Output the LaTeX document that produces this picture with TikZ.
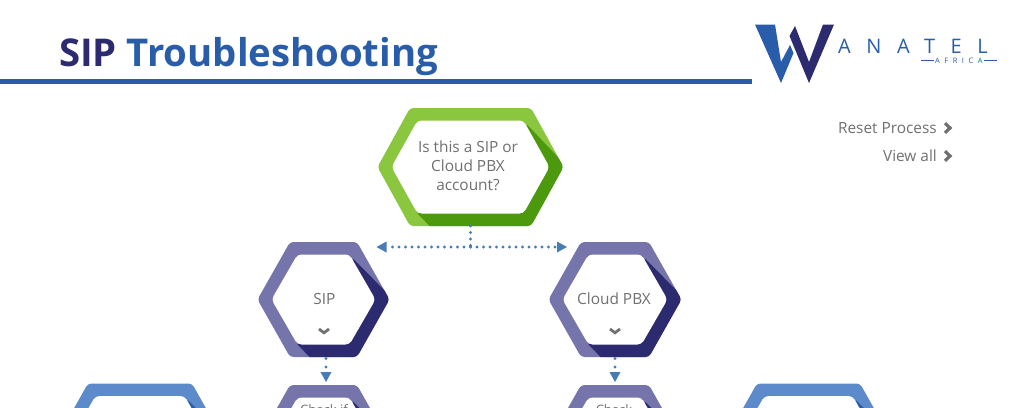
\documentclass[tikz,border=0pt]{standalone}
\usepackage{fontspec}
\setmainfont{Open Sans}
\usetikzlibrary{positioning,arrows.meta,calc}
\definecolor{WanaBlue}{RGB}{41,93,170}
\definecolor{WanaNavy}{RGB}{45,43,112}
\definecolor{HexGreen}{RGB}{139,198,63}
\definecolor{HexGreenDark}{RGB}{76,153,14}
\definecolor{HexPurple}{RGB}{117,117,171}
\definecolor{HexSky}{RGB}{93,138,202}
\definecolor{HexText}{RGB}{112,112,112}
\definecolor{LinkBlue}{RGB}{70,125,180}
\tikzset{
    x=1pt, y=-1pt,
    hextext/.style={text=HexText, font=\fontsize{15.4}{19}\selectfont, align=center, inner sep=0pt},
    smalltext/.style={hextext, font=\fontsize{13}{15}\selectfont, anchor=base},
    linktext/.style={text=HexText, font=\fontsize{15.4}{19}\selectfont, inner sep=0pt, anchor=east},
    dotlink/.style={draw=LinkBlue, line width=3.4pt, line cap=round, dash pattern=on 0pt off 6.5pt,
        -{Triangle[length=10pt,width=11pt,fill=LinkBlue,line width=0pt]}},
    hexbox/.style={inner sep=0pt, outer sep=0pt}
}
% #1 name, #2 centre, #3 half width, #4 half height, #5 light, #6 dark
\newcommand{\hexagon}[6]{
    \node[hexbox, minimum width=2*#3pt, minimum height=2*#4pt] (#1) at (#2) {};
    \begin{scope}[shift={(#2)}]
        \fill[#5, rounded corners=3.5pt] (-#3,0) -- (-#3+32.5,-#4) -- (#3-32.5,-#4) -- (#3,0) -- (#3-32.5,#4) -- (-#3+32.5,#4) -- cycle;
        \begin{scope}
            \clip[rounded corners=3.5pt] (-#3,0) -- (-#3+32.5,-#4) -- (#3-32.5,-#4) -- (#3,0) -- (#3-32.5,#4) -- (-#3+32.5,#4) -- cycle;
            \fill[#6] (#3-36,-#4+17) -- (#3+1,-3) -- (#3+1,#4+2) -- (-#3+54,#4+2) -- (-#3+40,#4-12.5) -- cycle;
        \end{scope}
        \fill[white, rounded corners=4pt] (-#3+14,0) -- (-#3+40,-#4+12.5) -- (#3-40,-#4+12.5) -- (#3-14,0) -- (#3-40,#4-12.5) -- (-#3+40,#4-12.5) -- cycle;
    \end{scope}
}
\newcommand{\chevdown}[1]{
    \draw[HexText, line width=2.8pt] ($(#1)+(-5,-2.5)$) -- ++(5,3.8) -- ++(5,-3.8);
}
\begin{document}
\begin{tikzpicture}
    \useasboundingbox (0,0) rectangle (1024,407);
    \clip (0,0) rectangle (1024,407);

    % --- title bar ---
    \node[anchor=base west, inner sep=0pt, font=\fontsize{38.3}{44}\bfseries\selectfont] (title) at (59,66)
        {\textcolor{WanaNavy}{SIP} \textcolor{WanaBlue}{Troubleshooting}};
    \fill[WanaBlue] (0,79) rectangle (751.5,83.6);

    % --- logo ---
    \fill[WanaBlue] (755,24.5) -- (775,24.5) -- (781,62) -- (790,45) -- (793.5,53) -- (781,83) -- cycle;
    \fill[WanaNavy] (795,26) -- (809,62) -- (823,24.5) -- (834,24.5) -- (809,83) -- (789.5,36) -- cycle;
    \node[anchor=base west, inner sep=0pt, text=WanaBlue, font=\fontsize{20}{22}\selectfont] (brand) at (838,53) {\addfontfeature{LetterSpace=78}ANATEL};
    \node[anchor=base west, inner sep=0pt, text=WanaBlue, font=\fontsize{7.5}{8}\selectfont] (africa) at (935,63.5) {\addfontfeature{LetterSpace=60}AFRICA};
    \draw[WanaBlue, line width=0.3pt] (921,60.3) -- (933.5,60.3) (984,60.3) -- (997,60.3);

    % --- side links ---
    \node[linktext] (reset) at (937,128) {Reset Process};
    \node[linktext] (viewall) at (937,156) {View all};
    \foreach \link in {reset, viewall} {
        \draw[HexText, line width=3.2pt] ($(\link.east)+(8,-4.8)$) -- ++(5,4.8) -- ++(-5,4.8);
    }

    % --- hexagons ---
    \hexagon{hexaccount}{470.5,167}{93}{59}{HexGreen}{HexGreenDark}
    \hexagon{hexsip}{323.5,299.5}{66}{57.5}{HexPurple}{WanaNavy}
    \hexagon{hexcloud}{615,299.5}{66.5}{57.5}{HexPurple}{WanaNavy}
    \hexagon{hexchecksip}{323.5,442.5}{66}{57.5}{HexPurple}{WanaNavy}
    \hexagon{hexcheckcloud}{615,442.5}{66.5}{57.5}{HexPurple}{WanaNavy}
    \hexagon{hexleft}{140,441}{84.5}{57.5}{HexSky}{WanaBlue}
    \hexagon{hexright}{808.5,441}{84}{57.5}{HexSky}{WanaBlue}

    % --- texts ---
    \node[hextext] (account) at (468,166) {Is this a SIP or\\Cloud PBX\\account?};
    \node[hextext] (sip) at (324.5,299) {SIP};
    \node[hextext] (cloud) at (614,299) {Cloud PBX};
    \node[smalltext] (checksip) at (324,414) {Check if};
    \node[smalltext] (checkcloud) at (614,414) {Check};
    \chevdown{324,331.5}
    \chevdown{615,331.5}

    % --- dotted links ---
    \coordinate (fork) at (470.5,247);
    \coordinate (leftend) at (376.5,247);
    \coordinate (rightend) at (567,247);
    \draw[dotlink, -] (hexaccount.south) -- (fork);
    \draw[dotlink] (fork) -- (leftend);
    \draw[dotlink] (fork) -- (rightend);
    \draw[dotlink, dash pattern=on 0pt off 8.5pt, shorten <=1.5pt, shorten >=3pt] ([xshift=2.5pt]hexsip.south) -- ([xshift=2.5pt]hexchecksip.north);
    \draw[dotlink, dash pattern=on 0pt off 8.5pt, shorten <=1.5pt, shorten >=3pt] (hexcloud.south) -- (hexcheckcloud.north);
\end{tikzpicture}
\end{document}
